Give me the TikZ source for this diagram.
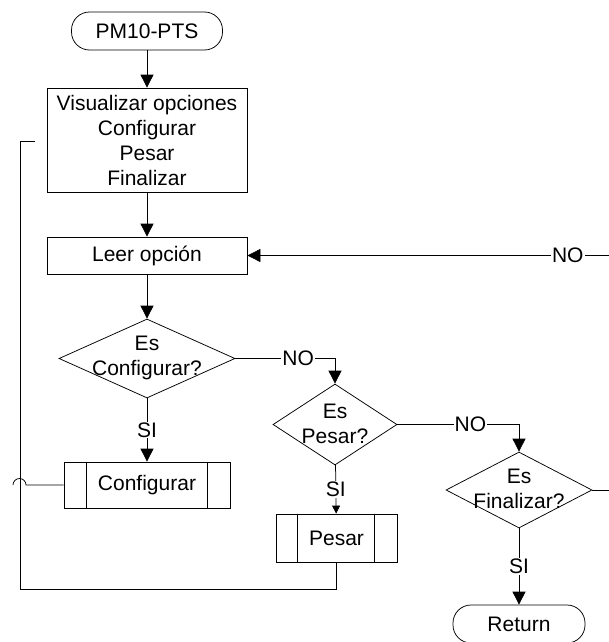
\documentclass[tikz,border=0pt]{standalone}
\usepackage{fontspec}
\setmainfont{Liberation Sans}
\usetikzlibrary{arrows.meta,shapes.geometric}
\begin{document}
\begin{tikzpicture}[x=1pt,y=-1pt,
  font=\fontsize{21}{25}\selectfont,
  every path/.style={line width=0.75pt},
  box/.style={draw, rectangle, inner sep=0pt, align=center},
  term/.style={draw, rectangle, rounded corners=18pt, inner sep=0pt},
  dec/.style={draw, diamond, inner sep=0pt},
  lab/.style={fill=white, inner sep=1pt},
  arr/.style={-{Triangle[length=13pt,width=13pt]}},
  arrs/.style={-{Triangle[length=8pt,width=8pt]}}]
\useasboundingbox (0,0) rectangle (608,642);

\node[term, minimum width=151, minimum height=38] (start) at (147,31) {PM10-PTS};
\node[box, minimum width=200, minimum height=104] (vis) at (147,140)
  {Visualizar opciones\\Configurar\\Pesar\\Finalizar};
\node[box, minimum width=200, minimum height=37] (leer) at (147,255.5) {Leer opción};

\node[dec, minimum width=176, minimum height=79] (d1) at (147,358.5) {};
\node[align=center, inner sep=0pt] (d1t) at (147,358) {Es\\Configurar?};
\node[dec, minimum width=124, minimum height=81] (d2) at (335,424.5) {};
\node[align=center, inner sep=0pt] (d2t) at (335,424) {Es\\Pesar?};
\node[dec, minimum width=146, minimum height=76] (d3) at (519,490) {};
\node[align=center, inner sep=0pt] (d3t) at (519,489) {Es\\Finalizar?};

\node[box, minimum width=166, minimum height=46] (conf) at (147,485) {Configurar};
\draw ([xshift=23pt]conf.north west) -- ([xshift=23pt]conf.south west)
      ([xshift=-23pt]conf.north east) -- ([xshift=-23pt]conf.south east);
\node[box, minimum width=121, minimum height=48] (pesar) at (336.5,538) {Pesar};
\draw ([xshift=22pt]pesar.north west) -- ([xshift=22pt]pesar.south west)
      ([xshift=-23pt]pesar.north east) -- ([xshift=-23pt]pesar.south east);
\node[term, minimum width=132, minimum height=38] (ret) at (519,624) {Return};

\draw[arr] (start) -- (vis);
\draw[arr] (vis) -- (leer);
\draw[arr] (leer) -- (d1);
\draw[arr] (d1) -- node[lab] {SI} (conf);
\draw[arr] (d1.east) -| node[lab, pos=0.315] {NO} (d2.north);
\draw[arrs] (d2) -- node[lab] {SI} (pesar);
\draw[arr] (d2.east) -| node[lab, pos=0.30] {NO} (d3.north);
\draw[arr] (d3) -- node[lab] {SI} (ret);

\coordinate (rx) at (620,0);
\draw[arr] (d3.east) -- (d3.east -| rx) |- node[lab, pos=0.57] {NO} (leer.east);

\coordinate (lx) at (20,589);
\coordinate (lend) at (35,141);
\draw (pesar.south) |- (lx) -- (lx |- lend) -- (lend);

\coordinate (hop) at (26,485);
\draw (conf.west) -- (hop) arc[start angle=0, end angle=-180, radius=6.5];
\end{tikzpicture}
\end{document}
